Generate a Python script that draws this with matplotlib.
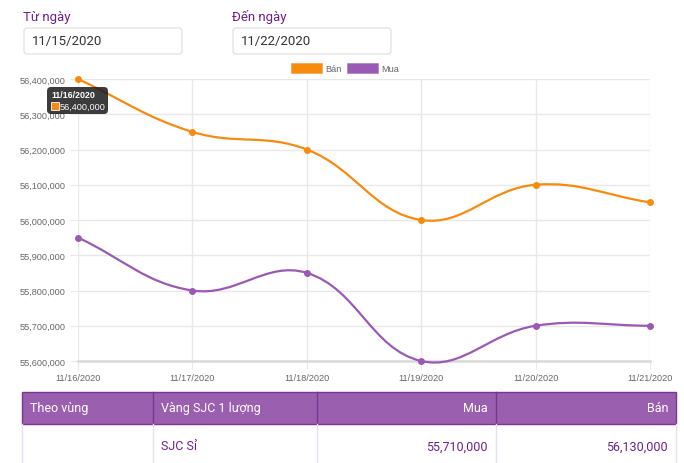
import matplotlib
matplotlib.use("Agg")
import matplotlib.pyplot as plt
from matplotlib.path import Path
from matplotlib.patches import PathPatch, FancyBboxPatch, Rectangle
import numpy as np

# data
dates = ["11/16/2020", "11/17/2020", "11/18/2020", "11/19/2020", "11/20/2020", "11/21/2020"]
ban = [56400000, 56250000, 56200000, 56000000, 56100000, 56050000]
mua = [55950000, 55800000, 55850000, 55600000, 55700000, 55700000]
y_ticks = [55600000, 55700000, 55800000, 55900000, 56000000, 56100000, 56200000, 56300000, 56400000]

table_header = ["Theo vùng", "Vàng SJC 1 lượng", "Mua", "Bán"]
table_row = ["", "SJC Sỉ", "55,710,000", "56,130,000"]

ORANGE = "#f68b0e"
PURPLE = "#9b59b6"
TEXT_PURPLE = "#6e1f8a"
FONT = "Roboto"
CHART_FONT = "Liberation Sans"

W, H = 684, 464
fig = plt.figure(figsize=(W / 100, H / 100), dpi=100)

# chart area in pixels
x0, x1, ytop, ybot = 78, 650, 80, 362
ax = fig.add_axes([x0 / W, 1 - ybot / H, (x1 - x0) / W, (ybot - ytop) / H])
xs = np.arange(len(dates))
ax.set_xlim(0, len(dates) - 1)
ax.set_ylim(y_ticks[0], y_ticks[-1])
ax.set_xticks(xs)
ax.set_xticklabels(dates)
ax.set_yticks(y_ticks)
ax.set_yticklabels(["{:,}".format(v) for v in y_ticks])
ax.grid(True, color="#e8e8e8", lw=1)
ax.tick_params(colors="#e8e8e8", labelcolor="#666666", labelsize=6.6, length=6, pad=3)
for lab in ax.get_xticklabels() + ax.get_yticklabels():
    lab.set_family(CHART_FONT)
for s in ["top", "left", "right"]:
    ax.spines[s].set_visible(False)
ax.spines["bottom"].set_color("#d9d9d9")
ax.spines["bottom"].set_linewidth(1.8)

# pixel scale, to match chart.js spline weighting
sx = (x1 - x0) / (len(dates) - 1)
sy = (ybot - ytop) / (y_ticks[-1] - y_ticks[0])


def spline_path(xv, yv, tension=0.4):
    n = len(xv)
    prev_cp, next_cp = [], []
    for i in range(n):
        p = max(i - 1, 0)
        q = min(i + 1, n - 1)
        d01 = np.hypot((xv[i] - xv[p]) * sx, (yv[i] - yv[p]) * sy)
        d12 = np.hypot((xv[q] - xv[i]) * sx, (yv[q] - yv[i]) * sy)
        tot = d01 + d12
        s01 = d01 / tot if tot else 0
        s12 = d12 / tot if tot else 0
        fa, fb = tension * s01, tension * s12
        prev_cp.append((xv[i] - fa * (xv[q] - xv[p]), yv[i] - fa * (yv[q] - yv[p])))
        next_cp.append((xv[i] + fb * (xv[q] - xv[p]), yv[i] + fb * (yv[q] - yv[p])))
    verts = [(xv[0], yv[0])]
    codes = [Path.MOVETO]
    for i in range(n - 1):
        verts += [next_cp[i], prev_cp[i + 1], (xv[i + 1], yv[i + 1])]
        codes += [Path.CURVE4] * 3
    return Path(verts, codes)


for vals, col in [(mua, PURPLE), (ban, ORANGE)]:
    ax.add_patch(PathPatch(spline_path(xs, vals), fill=False, ec=col, lw=1.6, zorder=3, clip_on=False))
    ax.plot(xs, vals, "o", color=col, ms=4, zorder=4, clip_on=False)

# page overlay in pixel coordinates
ov = fig.add_axes([0, 0, 1, 1])
ov.set_xlim(0, W)
ov.set_ylim(H, 0)
ov.axis("off")
ov.patch.set_alpha(0)

# date inputs
for lx, label, val in [(23, "Từ ngày", "11/15/2020"), (232, "Đến ngày", "11/22/2020")]:
    ov.text(lx, 17, label, color=TEXT_PURPLE, fontsize=9.5, family=FONT, va="center")
    ov.add_patch(FancyBboxPatch((lx + 1, 29), 158, 26, boxstyle="round,pad=0,rounding_size=3",
                                fc="white", ec="#dddddd", lw=0.8))
    ov.text(lx + 9, 42, val, color="#333333", fontsize=9.5, family=FONT, va="center")

# legend
ov.add_patch(Rectangle((291, 64), 31, 10, fc=ORANGE, ec="#f7a340", lw=0.5))
ov.text(325, 69, "Bán", color="#666666", fontsize=6.6, family=CHART_FONT, va="center")
ov.add_patch(Rectangle((347, 64), 31, 10, fc=PURPLE, ec="#b07fc6", lw=0.5))
ov.text(381, 69, "Mua", color="#666666", fontsize=6.6, family=CHART_FONT, va="center")

# tooltip
ov.add_patch(FancyBboxPatch((47, 88), 61, 27, boxstyle="round,pad=0,rounding_size=4",
                            fc="#1a1a1a", ec="none", alpha=0.85, zorder=5))
ov.text(51, 95.5, dates[0], color="white", fontsize=6.4, family=CHART_FONT, weight="bold",
        va="center", zorder=6)
ov.add_patch(Rectangle((51, 103), 8, 8, fc=ORANGE, ec="white", lw=0.6, zorder=6))
ov.text(60, 107, "{:,}".format(ban[0]), color="white", fontsize=6.6, family=CHART_FONT,
        va="center", zorder=6)

# table
cols = [22, 153, 317, 496, 676]
ov.add_patch(Rectangle((cols[0], 393), cols[-1] - cols[0], 32, fc="#9b5fb0", ec="#7a3592", lw=1))
for cx in cols[1:-1]:
    ov.plot([cx, cx], [393, 425], color="#7a3592", lw=1)
for cx in cols:
    ov.plot([cx, cx], [425, H], color="#e9dff0", lw=1)
for i, txt in enumerate(table_header):
    if i < 2:
        ov.text(cols[i] + 8, 409, txt, color="white", fontsize=9, family=FONT, va="center")
    else:
        ov.text(cols[i + 1] - 8, 409, txt, color="white", fontsize=9, family=FONT,
                va="center", ha="right")
for i, txt in enumerate(table_row):
    if i < 2:
        ov.text(cols[i] + 8, 447, txt, color=TEXT_PURPLE, fontsize=9, family=FONT, va="center")
    else:
        ov.text(cols[i + 1] - 8, 447, txt, color=TEXT_PURPLE, fontsize=9, family=FONT,
                va="center", ha="right")

fig.savefig("out.png", dpi=100)
